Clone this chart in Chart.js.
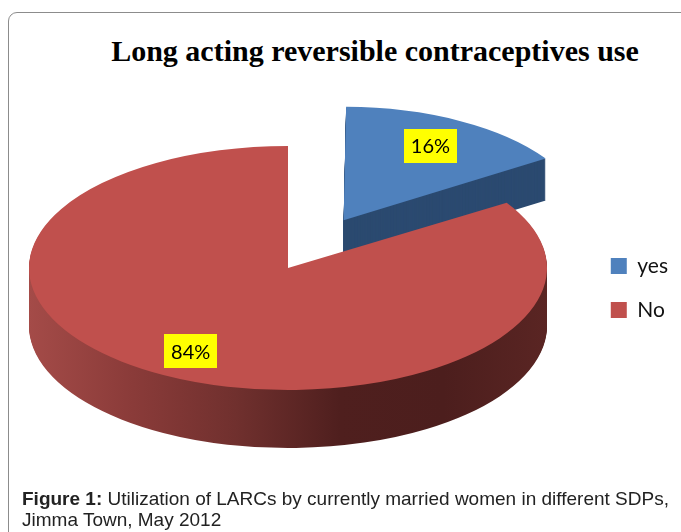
<!DOCTYPE html>
<html>
<head>
<meta charset="utf-8">
<script src="https://cdn.jsdelivr.net/npm/chart.js@4.4.0/dist/chart.umd.min.js"></script>
<style>
body { margin: 0; background: #fff; width: 681px; height: 532px; overflow: hidden; position: relative; }
#frame { position: absolute; left: 8px; top: 12px; width: 720px; height: 560px; border: 1px solid #8c8c8c; border-radius: 9px; }
#title { position: absolute; left: 0; top: 36px; width: 750px; text-align: center; font: bold 30px/1 "Liberation Serif", "Times New Roman", serif; color: #000; }
#pie { position: absolute; left: 0; top: 0; }
#caption { position: absolute; left: 22px; top: 488px; font: 19px/21px "Liberation Sans", Arial, sans-serif; color: #222; white-space: nowrap; }
</style>
</head>
<body>
<div id="frame"></div>
<div id="title">Long acting reversible contraceptives use</div>
<canvas id="pie" width="681" height="532"></canvas>
<div id="caption"><b>Figure 1:</b> Utilization of LARCs by currently married women in different SDPs,<br>Jimma Town, May 2012</div>
<script>
// data
const categories = ['yes', 'No'];
const shares = [16, 84];
const valueLabels = ['16%', '84%'];

const topColors = ['#4f81bd', '#c0504d'];

// squash the pie into an ellipse, extrude it down, shrink the far slice a bit
function geometry(chart, opts) {
    const arcs = chart.getDatasetMeta(0).data;
    const r = arcs[0].outerRadius;
    return { arcs, r, cx: arcs[0].x, cy: arcs[0].y, sx: opts.rx / r, sy: opts.ry / r, opts };
}

function apexOf(g, arc) {
    const mid = (arc.startAngle + arc.endAngle) / 2;
    const off = (arc.options.offset || 0) / 4;
    return { x: g.opts.cx + g.sx * Math.cos(mid) * off, y: g.opts.cy + g.sy * Math.sin(mid) * off };
}

function place(ctx, g, arc, i, dy) {
    const k = g.opts.perspective[i];
    const a = apexOf(g, arc);
    ctx.translate(a.x, a.y + dy);
    ctx.scale(k, k);
    ctx.translate(-a.x, -a.y);
    ctx.translate(g.opts.cx, g.opts.cy);
    ctx.scale(g.sx, g.sy);
    ctx.translate(-g.cx, -g.cy);
}

const pie3d = {
    id: 'pie3d',
    beforeDatasetsDraw(chart, args, opts) {
        const ctx = chart.ctx;
        const g = geometry(chart, opts);

        g.arcs.forEach((arc, i) => {
            let fill = opts.sideColors[i];
            if (Array.isArray(fill)) {
                const grad = ctx.createLinearGradient(g.cx - g.r, 0, g.cx + g.r, 0);
                fill.forEach((c, k) => grad.addColorStop(k / (fill.length - 1), c));
                fill = grad;
            }
            const side = Object.create(arc);
            side.options = Object.assign({}, arc.options, { backgroundColor: fill, borderWidth: 0 });
            for (let d = opts.depths[i]; d > 0; d--) {
                ctx.save();
                place(ctx, g, arc, i, d);
                side.draw(ctx);
                ctx.restore();
            }
        });

        g.arcs.forEach((arc, i) => {
            ctx.save();
            place(ctx, g, arc, i, 0);
            arc.draw(ctx);
            ctx.restore();
        });
        return false;
    },
    afterDraw(chart, args, opts) {
        const ctx = chart.ctx;
        const g = geometry(chart, opts);

        ctx.save();
        ctx.font = opts.labelFont;
        ctx.textAlign = 'center';
        ctx.textBaseline = 'middle';
        g.arcs.forEach((arc, i) => {
            const mid = (arc.startAngle + arc.endAngle) / 2;
            const a = apexOf(g, arc);
            const k = opts.perspective[i];
            const d = opts.labelFrac[i] * g.r;
            const X = a.x + k * g.sx * Math.cos(mid) * d;
            const Y = a.y + k * g.sy * Math.sin(mid) * d;
            const w = ctx.measureText(valueLabels[i]).width + 14;
            ctx.fillStyle = '#ffff00';
            ctx.fillRect(Math.round(X - w / 2), Math.round(Y - 17), Math.round(w), 34);
            ctx.fillStyle = '#000';
            ctx.fillText(valueLabels[i], X, Y + 1);
        });
        ctx.restore();
    }
};

new Chart(document.getElementById('pie'), {
    type: 'pie',
    data: {
        labels: categories,
        datasets: [{
            data: shares,
            backgroundColor: topColors,
            borderWidth: 0,
            offset: [230, 0],
            hoverOffset: 0,
            clip: false
        }]
    },
    options: {
        responsive: false,
        animation: false,
        events: [],
        rotation: 0,
        layout: { padding: { top: 44, right: 3 } },
        plugins: {
            tooltip: { enabled: false },
            title: { display: false },
            legend: {
                position: 'right',
                labels: {
                    boxWidth: 16,
                    boxHeight: 16,
                    padding: 23,
                    color: '#111',
                    font: { family: 'Lato', size: 21 }
                }
            },
            pie3d: {
                cx: 288, cy: 268, rx: 259, ry: 122,
                depths: [42, 58],
                perspective: [0.87, 1],
                sideColors: ['#2b4a70', ['#a44b48', '#8a3b39', '#70302e', '#4f1f1e', '#4c1e1d', '#5a2523']],
                labelFrac: [0.8, 0.78],
                labelFont: '20px Lato'
            }
        }
    },
    plugins: [pie3d]
});
</script>
</body>
</html>
